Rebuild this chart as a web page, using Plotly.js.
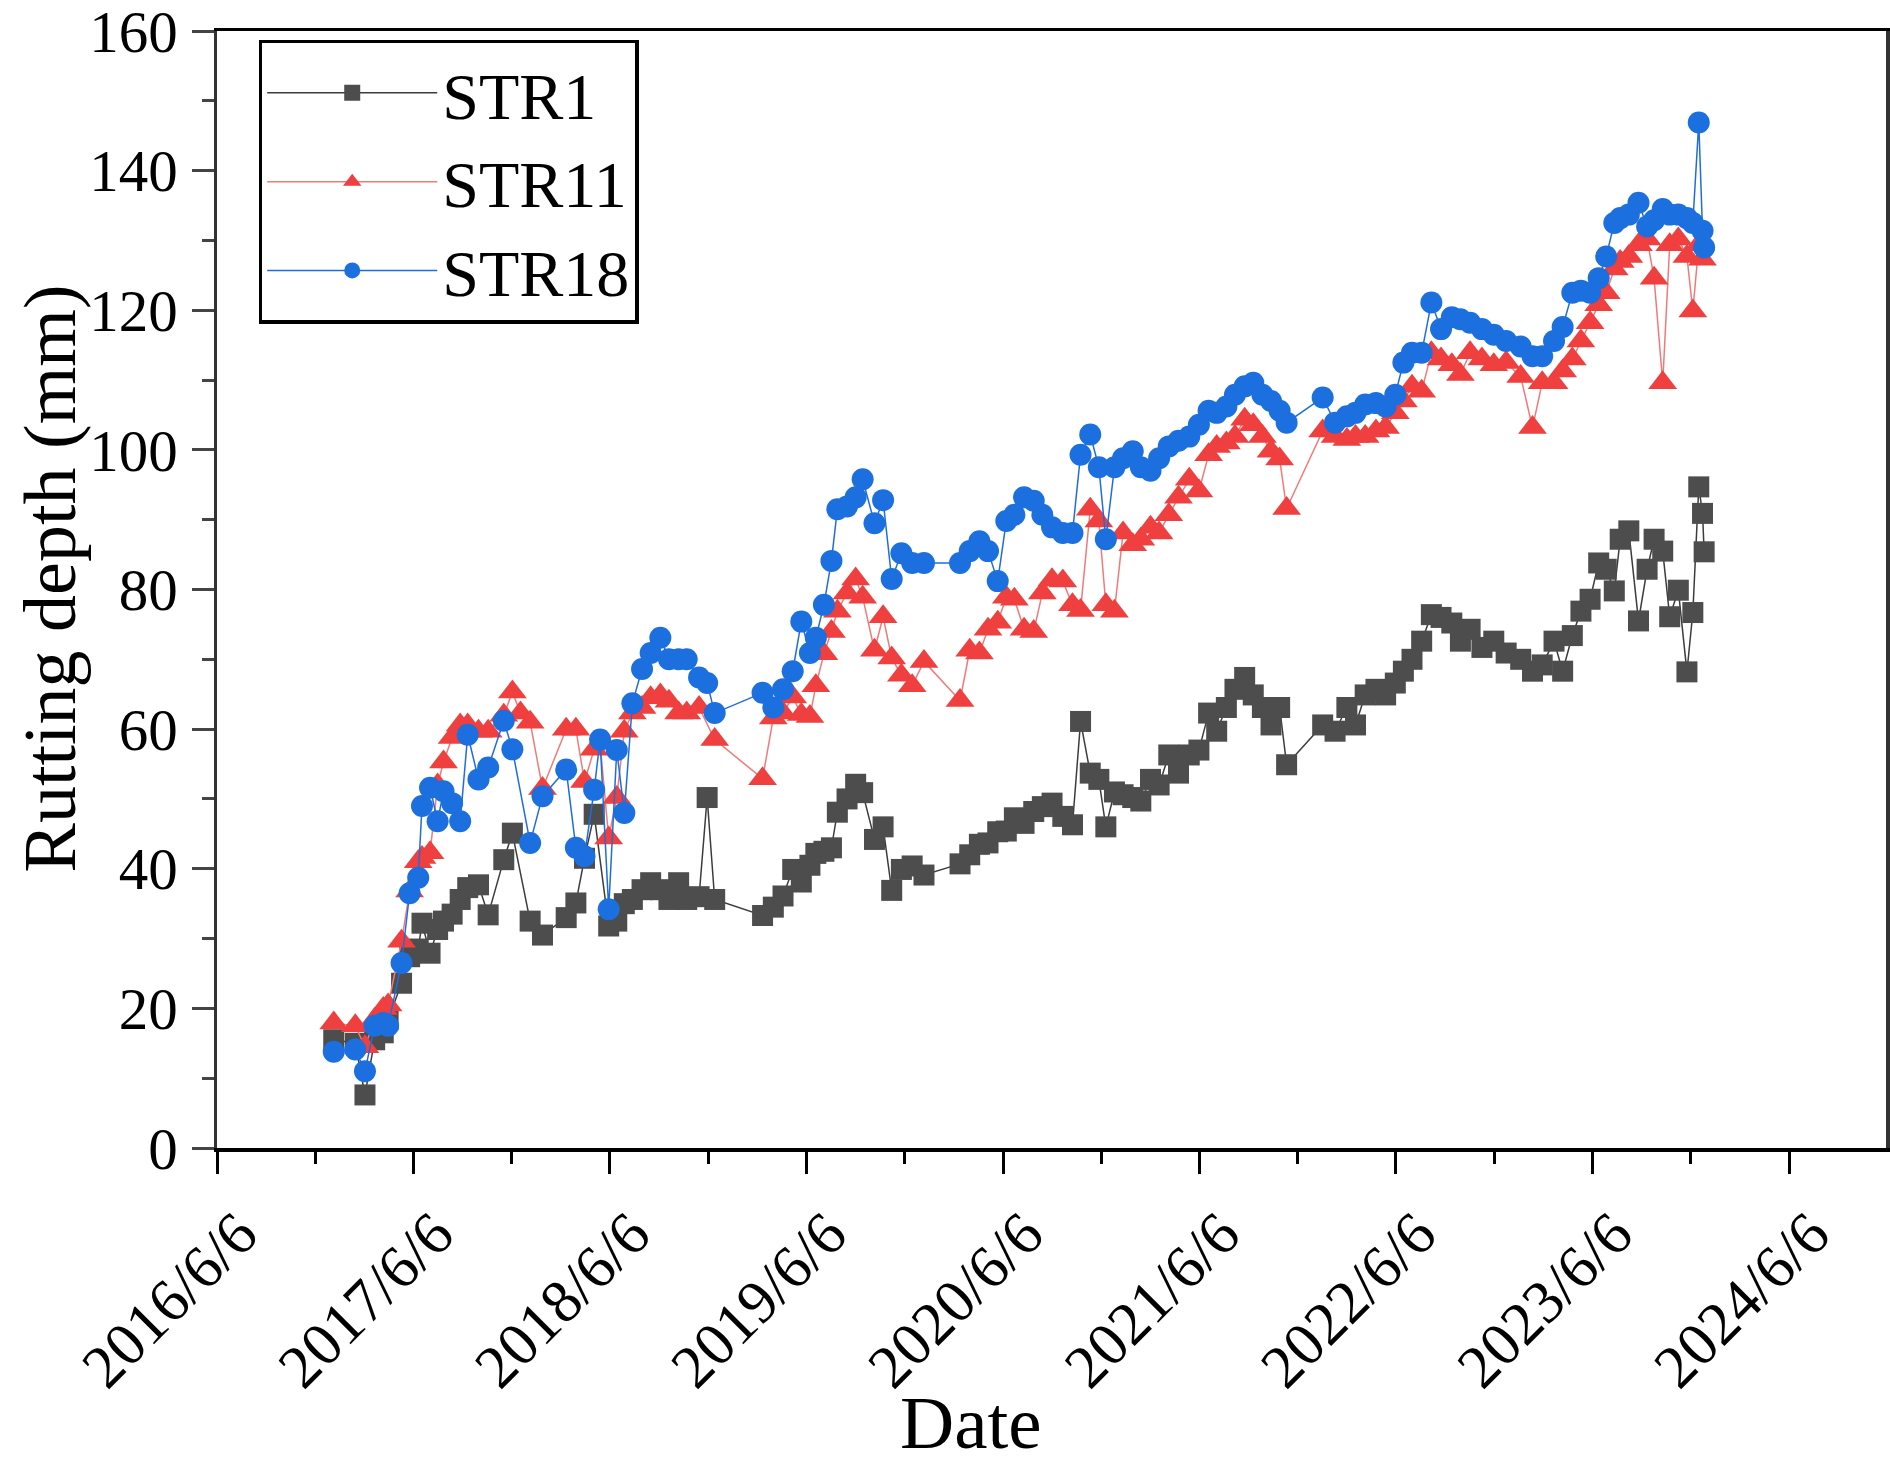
<!DOCTYPE html>
<html>
<head>
<meta charset="utf-8">
<script src="https://cdn.plot.ly/plotly-3.0.1.min.js"></script>
<style>html,body{margin:0;padding:0;background:#fff;}#chart{width:1890px;height:1467px;}</style>
</head>
<body>
<div id="chart"></div>
<script>
const dates = [
"2017-01-09","2017-02-18","2017-03-08","2017-03-26","2017-04-11","2017-04-20","2017-05-15","2017-05-30","2017-06-15","2017-06-22",
"2017-07-07","2017-07-21","2017-08-01","2017-08-17","2017-09-01","2017-09-15","2017-10-05","2017-10-23","2017-11-21","2017-12-07",
"2017-12-22","2018-01-09","2018-02-01","2018-03-17","2018-04-04","2018-04-20","2018-05-08","2018-05-19","2018-06-04","2018-06-19",
"2018-07-03","2018-07-18","2018-08-05","2018-08-21","2018-09-08","2018-09-24","2018-10-12","2018-10-27","2018-11-19","2018-12-04",
"2018-12-18","2019-03-17","2019-04-06","2019-04-24","2019-05-12","2019-05-28","2019-06-13","2019-06-24","2019-07-09","2019-07-23",
"2019-08-03","2019-08-21","2019-09-06","2019-09-19","2019-10-11","2019-10-27","2019-11-12","2019-11-30","2019-12-20","2020-01-11",
"2020-03-18","2020-04-05","2020-04-23","2020-05-09","2020-05-27","2020-06-12","2020-06-27","2020-07-15","2020-08-02","2020-08-18",
"2020-09-05","2020-09-25","2020-10-13","2020-10-28","2020-11-15","2020-12-01","2020-12-14","2020-12-30","2021-01-15","2021-02-02",
"2021-02-17","2021-03-07","2021-03-23","2021-04-10","2021-04-28","2021-05-18","2021-06-05","2021-06-23","2021-07-08","2021-07-26",
"2021-08-11","2021-08-29","2021-09-14","2021-10-01","2021-10-17","2021-11-02","2021-11-15","2022-01-21","2022-02-13","2022-03-07",
"2022-03-23","2022-04-10","2022-04-30","2022-05-18","2022-06-05","2022-06-20","2022-07-06","2022-07-24","2022-08-11","2022-08-29",
"2022-09-18","2022-10-04","2022-10-22","2022-11-13","2022-12-05","2022-12-28","2023-01-24","2023-02-15","2023-03-05","2023-03-27",
"2023-04-12","2023-04-30","2023-05-16","2023-06-02","2023-06-18","2023-07-02","2023-07-17","2023-07-28","2023-08-13","2023-08-31",
"2023-09-16","2023-09-29","2023-10-15","2023-10-28","2023-11-13","2023-11-29","2023-12-10","2023-12-21","2023-12-28","2023-12-31"];

const str1 = [
15.5,15.0,7.6,15.5,16.5,18.4,23.6,27.4,28.5,32.2,
27.9,31.3,32.5,33.5,35.6,37.3,37.7,33.4,41.3,45.1,
null,32.5,30.5,33.0,35.1,41.5,47.8,null,31.8,32.5,
35.0,35.6,37.0,38.0,37.0,35.6,38.0,35.6,36.0,50.2,
35.6,33.3,34.5,36.1,39.9,38.1,40.5,42.2,42.5,43.0,
48.1,50.0,52.1,50.9,44.2,46.0,36.9,39.9,40.4,39.1,
40.7,42.0,43.5,43.7,45.3,45.4,47.3,46.5,48.2,48.9,
49.4,47.5,46.3,61.1,53.7,52.8,46.0,51.0,50.6,50.2,
49.7,52.8,52.0,56.3,53.7,56.3,57.0,62.3,59.7,63.1,
65.7,67.4,64.9,63.1,60.6,63.1,54.9,60.6,59.7,63.1,
60.6,64.9,65.7,64.9,66.6,68.3,70.0,72.6,76.4,76.0,
75.2,72.6,74.3,71.7,72.6,70.9,70.0,68.3,69.2,72.6,
68.3,73.4,76.9,78.6,83.8,82.9,79.8,87.2,88.4,75.5,
82.9,87.2,85.5,76.1,79.9,68.2,76.7,94.7,90.9,85.4];

const str11 = [
17.9,17.5,14.5,18.4,20.0,20.5,29.6,36.8,41.0,41.6,
42.3,52.0,55.3,58.8,60.6,60.6,59.7,59.7,62.0,65.3,
62.3,61.0,51.5,60.0,60.0,52.5,57.1,58.0,44.4,50.2,
59.7,62.3,63.1,64.5,64.9,64.0,62.3,62.3,63.1,null,
58.5,52.9,61.6,62.3,64.6,62.1,61.8,66.2,70.8,74.0,
76.9,79.5,81.5,78.9,71.3,76.1,70.2,67.7,66.2,69.7,
64.1,71.3,70.9,74.3,75.3,78.9,78.6,74.3,74.0,79.5,
81.4,81.2,77.8,77.0,91.5,89.8,77.8,76.9,88.1,86.4,
87.2,88.9,88.1,90.7,93.2,95.8,94.1,99.3,100.5,101.0,
101.9,104.4,103.6,101.9,99.8,98.7,91.6,102.7,101.9,101.5,
101.9,101.9,102.7,103.2,105.3,107.0,109.1,108.4,113.9,113.0,
112.2,110.8,113.9,113.0,112.2,112.5,110.5,103.2,109.6,109.6,
111.3,113.0,115.6,118.2,120.8,122.5,125.9,127.0,127.7,129.4,
130.2,124.6,109.6,129.4,130.2,127.7,119.9,129.4,127.3,null];

const str18 = [
13.8,14.1,11.0,17.5,17.9,17.5,26.5,36.5,38.7,49.0,
51.6,46.8,51.1,49.4,46.8,59.2,52.8,54.5,61.2,57.1,
null,43.7,50.4,54.2,43.0,41.8,51.3,58.5,34.2,57.0,
48.0,63.7,68.6,70.9,73.1,70.0,70.0,70.0,67.4,66.6,
62.3,65.2,63.1,65.7,68.3,75.4,70.9,73.1,77.8,84.1,
91.5,91.9,93.2,95.8,89.5,92.8,81.5,85.2,83.8,83.8,
83.8,85.5,86.9,85.5,81.2,89.8,90.7,93.2,92.7,90.7,
88.9,88.1,88.1,99.3,102.2,97.5,87.2,97.5,98.8,99.8,
97.5,97.0,98.8,100.5,101.3,101.9,103.6,105.6,105.3,106.2,
107.9,109.1,109.6,107.9,107.0,105.6,103.9,107.5,103.9,104.8,
105.3,106.5,106.7,106.2,107.9,112.5,113.9,113.9,121.1,117.3,
119.0,118.7,118.2,117.3,116.5,115.6,114.8,113.4,113.4,115.6,
117.6,122.5,122.8,122.5,124.6,127.7,132.5,133.2,133.7,135.4,
132.0,132.9,134.5,133.7,133.7,133.2,132.5,146.9,131.4,129.0];

const seriesNames = ["STR1", "STR11", "STR18"];
const xTitle = "Date";
const yTitle = "Rutting depth (mm)";
const FONT = "Liberation Serif, Times New Roman, serif";

const traces = [
  {x: dates, y: str1, name: seriesNames[0], type: "scatter", mode: "lines+markers", connectgaps: true,
   line: {color: "#3c3c3c", width: 1.5}, marker: {symbol: "square", size: 21, color: "#4d4d4d"}},
  {x: dates, y: str11, name: seriesNames[1], type: "scatter", mode: "lines+markers", connectgaps: true,
   line: {color: "#f07a7a", width: 1.5}, marker: {symbol: "triangle-up", size: 25, color: "#ef3f3f"}},
  {x: dates, y: str18, name: seriesNames[2], type: "scatter", mode: "lines+markers", connectgaps: true,
   line: {color: "#1f6ddb", width: 1.5}, marker: {symbol: "circle", size: 22, color: "#1c6fde"}}
];

const layout = {
  width: 1890, height: 1467,
  margin: {l: 217, r: 4, t: 31, b: 319},
  paper_bgcolor: "#fff", plot_bgcolor: "#fff",
  font: {family: FONT, color: "#000", size: 56},
  showlegend: true,
  legend: {
    x: 0.025, y: 0.992, xanchor: "left", yanchor: "top",
    bgcolor: "#fff", bordercolor: "#000", borderwidth: 3.5,
    font: {family: FONT, size: 66, color: "#000"},
    itemwidth: 170, tracegroupgap: 0
  },
  xaxis: {
    type: "date",
    range: ["2016-06-06", "2024-12-03"],
    tick0: "2016-06-06", dtick: "M12",
    tickformat: "%Y/%-m/%-d",
    tickangle: -45,
    ticklabelshift: 22,
    ticks: "outside", ticklen: 22, tickwidth: 3, tickcolor: "#000",
    minor: {dtick: "M6", tick0: "2016-06-06", ticks: "outside", ticklen: 12, tickwidth: 3, tickcolor: "#000", showgrid: false},
    showline: true, linecolor: "#000", linewidth: 3.5, mirror: true,
    showgrid: false, zeroline: false,
    tickfont: {family: FONT, size: 61, color: "#000"},
    title: {text: ""}
  },
  yaxis: {
    range: [0, 160], dtick: 20, tick0: 0,
    ticks: "outside", ticklen: 22, tickwidth: 3, tickcolor: "#444",
    ticklabelstandoff: 2, ticklabeloverflow: "allow",
    minor: {dtick: 10, ticks: "outside", ticklen: 12, tickwidth: 3, tickcolor: "#444", showgrid: false},
    showline: true, linecolor: "#333", linewidth: 3.5, mirror: true,
    showgrid: false, zeroline: false,
    tickfont: {family: FONT, size: 59, color: "#000"},
    title: {text: ""}
  },
  annotations: [
    {text: xTitle, xref: "paper", yref: "paper", x: 0.452, y: -0.246, xanchor: "center", yanchor: "middle",
     showarrow: false, font: {family: FONT, size: 75, color: "#000"}},
    {text: yTitle, xref: "paper", yref: "paper", x: -0.1, y: 0.51, xanchor: "center", yanchor: "middle",
     textangle: -90, showarrow: false, font: {family: FONT, size: 74, color: "#000"}}
  ]
};

Plotly.newPlot("chart", traces, layout, {staticPlot: true, displayModeBar: false});
</script>
</body>
</html>
